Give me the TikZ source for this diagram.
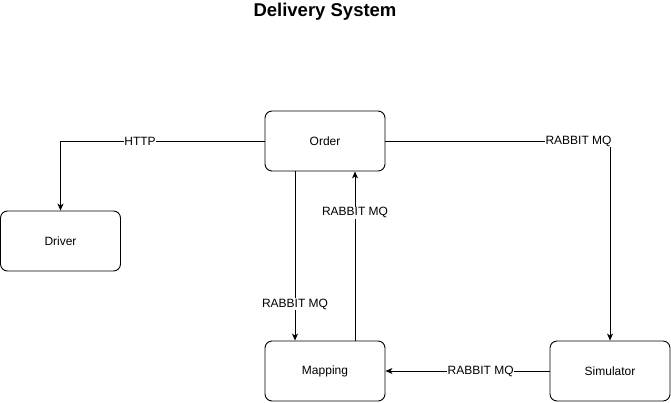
\documentclass[tikz,border=0pt]{standalone}
\usepackage{fontspec}
\setmainfont{Liberation Sans}
\usetikzlibrary{arrows.meta}
\begin{document}
\begin{tikzpicture}[x=1pt,y=-1pt]
    \tikzset{
    svc/.style={rectangle,rounded corners=7pt,draw=black,line width=0.9pt,minimum width=120pt,minimum height=60pt,font=\fontsize{12}{14}\selectfont},
    c1/.style={-{Stealth[length=7pt,width=6pt,inset=2pt]},line width=0.9pt},
    lbl/.style={fill=white,inner sep=0.5pt,font=\fontsize{12}{14}\selectfont},
    }
    \useasboundingbox (0,0) rectangle (671,402);
    \node[font=\bfseries\fontsize{18.5}{22}\selectfont] (title) at (325,12) {Delivery System};
    \node[svc] (order) at (325,141) {Order};
    \node[svc] (driver) at (60.5,241) {Driver};
    \node[svc] (mapping) at (325,371) {Mapping};
    \node[svc] (sim) at (610,371) {Simulator};

    \draw[c1] (order.west) -| node[lbl,pos=0.305] {HTTP} (driver.north);
    \draw[c1] (order.east) -| node[lbl,pos=0.43] {RABBIT MQ} (sim.north);
    \draw[c1] ([xshift=-30pt]order.south) -- node[lbl,pos=0.785] {RABBIT MQ} ([xshift=-30pt]mapping.north);
    \draw[c1] ([xshift=30pt]mapping.north) -- node[lbl,pos=0.755] {RABBIT MQ} ([xshift=30pt]order.south);
    \draw[c1] (sim.west) -- node[lbl,pos=0.42] {RABBIT MQ} (mapping.east);
\end{tikzpicture}
\end{document}
